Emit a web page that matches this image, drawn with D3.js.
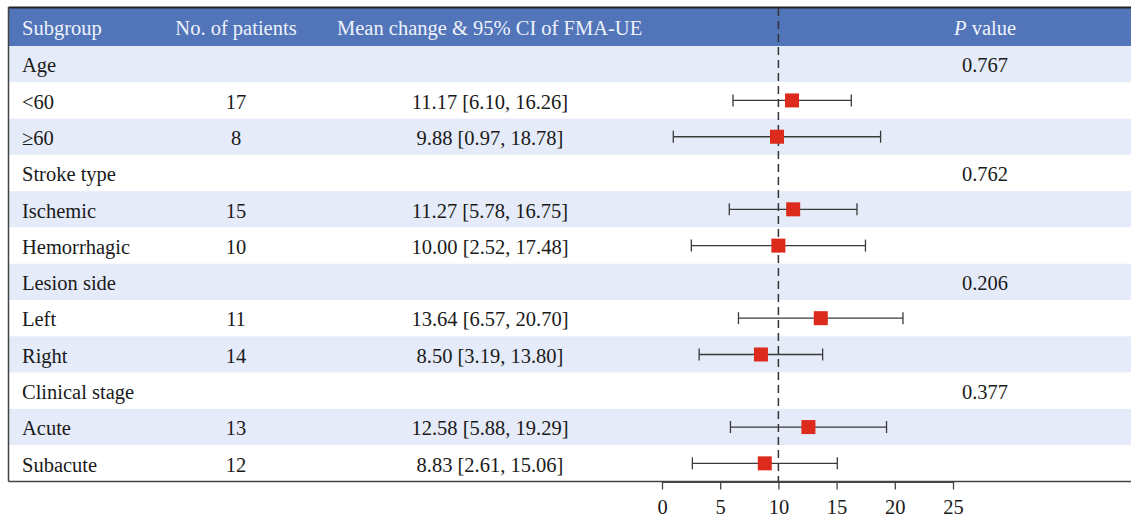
<!DOCTYPE html>
<html><head><meta charset="utf-8">
<script src="https://cdn.jsdelivr.net/npm/d3@7"></script>
<style>body{margin:0;background:#fff;} svg{display:block;}</style>
</head><body>
<script>
const subgroups = ["Age","<60","≥60","Stroke type","Ischemic","Hemorrhagic","Lesion side","Left","Right","Clinical stage","Acute","Subacute"];
const patients = [null,17,8,null,15,10,null,11,14,null,13,12];
const means = [null,11.17,9.88,null,11.27,10.00,null,13.64,8.50,null,12.58,8.83];
const lower = [null,6.10,0.97,null,5.78,2.52,null,6.57,3.19,null,5.88,2.61];
const upper = [null,16.26,18.78,null,16.75,17.48,null,20.70,13.80,null,19.29,15.06];
const pValues = ["0.767",null,null,"0.762",null,null,"0.206",null,null,"0.377",null,null];
const xTicks = [0,5,10,15,20,25];
const refValue = 10;

const W=1131,H=517;
const svg=d3.select("body").append("svg").attr("width",W).attr("height",H);
const font="'Liberation Serif','DejaVu Serif',serif";
const fs=20.5;
const topY=8, headH=38, bottomY=481.5, leftX=8.5;
const y=d3.scaleBand().domain(d3.range(subgroups.length)).range([topY+headH,bottomY]).padding(0);
const x=d3.scaleLinear().domain([0,25]).range([662,953]);

// header
svg.append("rect").attr("x",leftX).attr("y",topY).attr("width",W-leftX).attr("height",headH).attr("fill","#5274b9");
svg.append("line").attr("x1",leftX).attr("x2",W).attr("y1",topY-0.5).attr("y2",topY-0.5).attr("stroke","#222").attr("stroke-width",2);
// rows
svg.selectAll("rect.row").data(subgroups).join("rect").attr("class","row")
 .attr("x",leftX).attr("y",(d,i)=>y(i)).attr("width",W-leftX).attr("height",y.bandwidth())
 .attr("fill",(d,i)=>i%2===0?"#e5ebf9":"#ffffff");

const hdr=svg.append("g").attr("font-family",font).attr("font-size",fs).attr("fill","#eef2fb");
const hy=topY+headH/2+8;
hdr.append("text").attr("x",22).attr("y",hy).text("Subgroup");
hdr.append("text").attr("x",236).attr("y",hy).attr("text-anchor","middle").text("No. of patients");
hdr.append("text").attr("x",337).attr("y",hy).text("Mean change & 95% CI of FMA-UE");
const pv=hdr.append("text").attr("x",985).attr("y",hy).attr("text-anchor","middle");
pv.append("tspan").attr("font-style","italic").text("P");
pv.append("tspan").text(" value");

const g=svg.append("g").attr("font-family",font).attr("font-size",fs).attr("fill","#1a1a1a");
const cy=i=>y(i)+y.bandwidth()/2;
const ty=i=>cy(i)+8.3;
g.selectAll("text.sg").data(subgroups).join("text").attr("class","sg").attr("x",22).attr("y",(d,i)=>ty(i)).text(d=>d);
g.selectAll("text.n").data(patients).join("text").attr("class","n").attr("x",236).attr("y",(d,i)=>ty(i)).attr("text-anchor","middle").text(d=>d==null?"":d);
g.selectAll("text.ci").data(means).join("text").attr("class","ci").attr("x",490).attr("y",(d,i)=>ty(i)).attr("text-anchor","middle")
 .text((d,i)=>d==null?"":`${d.toFixed(2)} [${lower[i].toFixed(2)}, ${upper[i].toFixed(2)}]`);
g.selectAll("text.p").data(pValues).join("text").attr("class","p").attr("x",985).attr("y",(d,i)=>ty(i)).attr("text-anchor","middle").text(d=>d||"");

// left border
svg.append("line").attr("x1",leftX).attr("x2",leftX).attr("y1",topY-1).attr("y2",bottomY).attr("stroke","#444").attr("stroke-width",1.5);
// bottom line
svg.append("line").attr("x1",leftX).attr("x2",W).attr("y1",bottomY).attr("y2",bottomY).attr("stroke","#444").attr("stroke-width",1.5);

// forest
const idx=d3.range(subgroups.length).filter(i=>means[i]!=null);
const fg=svg.append("g");
fg.selectAll("line.ci").data(idx).join("line").attr("class","ci").attr("x1",i=>x(lower[i])).attr("x2",i=>x(upper[i]))
 .attr("y1",cy).attr("y2",cy).attr("stroke","#3a3a3a").attr("stroke-width",1.3);
fg.selectAll("line.cl").data(idx).join("line").attr("class","cl").attr("x1",i=>x(lower[i])).attr("x2",i=>x(lower[i]))
 .attr("y1",i=>cy(i)-6).attr("y2",i=>cy(i)+6).attr("stroke","#3a3a3a").attr("stroke-width",1.3);
fg.selectAll("line.cu").data(idx).join("line").attr("class","cu").attr("x1",i=>x(upper[i])).attr("x2",i=>x(upper[i]))
 .attr("y1",i=>cy(i)-6).attr("y2",i=>cy(i)+6).attr("stroke","#3a3a3a").attr("stroke-width",1.3);

// reference dashed line
svg.append("line").attr("x1",x(refValue)).attr("x2",x(refValue)).attr("y1",topY).attr("y2",bottomY)
 .attr("stroke","#333").attr("stroke-width",1.5).attr("stroke-dasharray","8,5");

fg.selectAll("rect.pt").data(idx).join("rect").attr("class","pt").attr("x",i=>x(means[i])-7).attr("y",i=>cy(i)-7)
 .attr("width",14).attr("height",14).attr("fill","#dc2a1c");
fg.raise();

// axis
const ax=svg.append("g").attr("transform",`translate(0,${bottomY})`)
 .call(d3.axisBottom(x).tickValues(xTicks).tickSize(8).tickSizeOuter(0).tickPadding(9.5));
ax.select(".domain").attr("stroke","#444").attr("stroke-width",1.8);
ax.selectAll(".tick line").attr("stroke","#444").attr("stroke-width",1.3);
ax.selectAll("text").attr("font-family",font).attr("font-size",fs).attr("fill","#1a1a1a");
</script>
</body></html>
